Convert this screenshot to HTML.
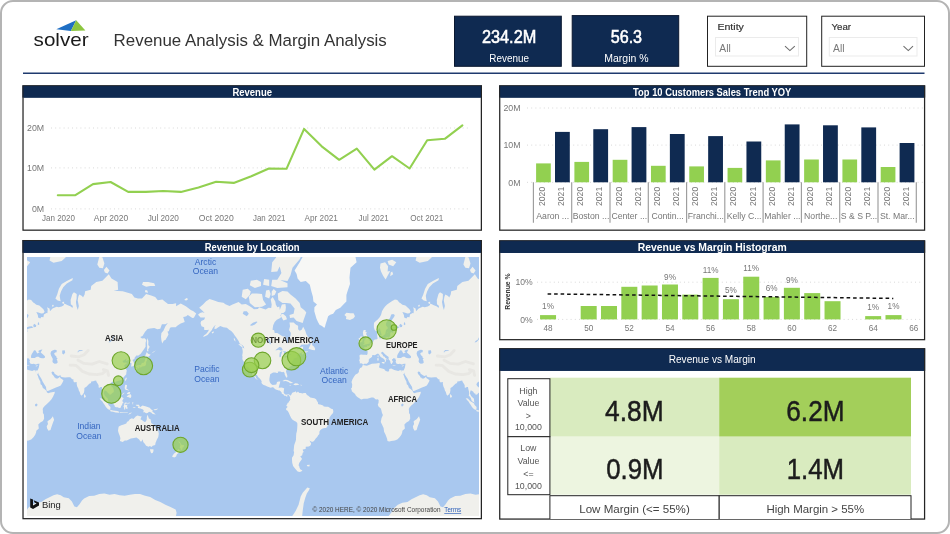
<!DOCTYPE html><html><head><meta charset="utf-8"><title>Revenue Analysis &amp; Margin Analysis</title><style>

html,body{margin:0;padding:0;background:#fff;}
body{width:950px;height:534px;position:relative;overflow:hidden;font-family:"Liberation Sans", sans-serif;}
.frame{position:absolute;left:0;top:0;width:950px;height:534px;box-sizing:border-box;border:2px solid #b4b4b4;border-radius:13px;background:#fff;}
.panel{position:absolute;box-sizing:border-box;border:1px solid #1d1d1d;background:#fff;}
.ptitle{background:#0f2a51;overflow:hidden;}
svg text{font-family:"Liberation Sans", sans-serif;}
svg{will-change:transform;}

</style></head><body>
<div class="frame"></div>
<svg class="" style="position:absolute;left:0px;top:0px" width="950" height="80" viewBox="0 0 950 80" font-family='"Liberation Sans", sans-serif'><polygon points="56.3,29.2 76.2,20.2 70.9,30.9" fill="#1f6fc4"/><polygon points="76.2,20.2 85.4,30.4 70.9,30.9" fill="#8cc63f"/><text x="33.6" y="45.9" font-size="18.4" fill="#1a1a1a" font-weight="normal" text-anchor="start" textLength="55" lengthAdjust="spacingAndGlyphs">solver</text><text x="113.6" y="45.8" font-size="17.4" fill="#333" font-weight="normal" text-anchor="start" textLength="273.2" lengthAdjust="spacingAndGlyphs">Revenue Analysis &amp; Margin Analysis</text><rect x="454.50" y="16.20" width="106.80" height="50.10" fill="#0f2a51" stroke="#0a1830" stroke-width="1"/><rect x="572.20" y="15.60" width="106.50" height="50.70" fill="#0f2a51" stroke="#0a1830" stroke-width="1"/><text x="509.1" y="42.7" font-size="17.6" fill="#fff" font-weight="normal" text-anchor="middle" textLength="54.4" lengthAdjust="spacingAndGlyphs" stroke="#fff" stroke-width="0.55">234.2M</text><text x="509.1" y="61.8" font-size="10.4" fill="#fff" font-weight="normal" text-anchor="middle" textLength="39.6" lengthAdjust="spacingAndGlyphs">Revenue</text><text x="626.4" y="42.7" font-size="17.6" fill="#fff" font-weight="normal" text-anchor="middle" textLength="31.4" lengthAdjust="spacingAndGlyphs" stroke="#fff" stroke-width="0.55">56.3</text><text x="626.4" y="61.8" font-size="10.4" fill="#fff" font-weight="normal" text-anchor="middle" textLength="44.3" lengthAdjust="spacingAndGlyphs">Margin %</text><rect x="707.50" y="16.20" width="99.20" height="50.10" fill="#fff" stroke="#222" stroke-width="1"/><rect x="821.70" y="16.20" width="102.80" height="50.10" fill="#fff" stroke="#222" stroke-width="1"/><text x="717.4" y="30.1" font-size="9.6" fill="#333" font-weight="normal" text-anchor="start" textLength="26.5" lengthAdjust="spacingAndGlyphs" stroke="#333" stroke-width="0.18">Entity</text><text x="831.5" y="30.1" font-size="9.6" fill="#333" font-weight="normal" text-anchor="start" textLength="19.5" lengthAdjust="spacingAndGlyphs" stroke="#333" stroke-width="0.18">Year</text><rect x="715.50" y="37.50" width="83.00" height="18.50" fill="#fff" stroke="#ebebeb" stroke-width="1"/><rect x="829.30" y="37.50" width="87.70" height="18.50" fill="#fff" stroke="#ebebeb" stroke-width="1"/><text x="719.3" y="51.6" font-size="10.3" fill="#787878" font-weight="normal" text-anchor="start">All</text><text x="833.1" y="51.6" font-size="10.3" fill="#787878" font-weight="normal" text-anchor="start">All</text><polyline points="785,46.2 789.9,50.6 794.8,46.2" fill="none" stroke="#6e6e6e" stroke-width="1.1"/><polyline points="903.5,46.2 908.3,50.6 913,46.2" fill="none" stroke="#6e6e6e" stroke-width="1.1"/><line x1="23" x2="924.5" y1="73.3" y2="73.3" stroke="#1f3a6e" stroke-width="1.4"/></svg>
<svg class="chrome" style="position:absolute;left:0px;top:80px" width="950" height="454" viewBox="0 80 950 454" font-family='"Liberation Sans", sans-serif'>
<g class="panel"><rect x="22.40" y="85.30" width="459.60" height="145.50" fill="#fff"/><rect x="22.40" y="85.30" width="459.60" height="12.30" fill="#0f2a51"/><rect x="23.02" y="85.92" width="458.35" height="144.25" fill="none" stroke="#242424" stroke-width="1.25"/><rect x="23.65" y="86.20" width="457.10" height="11.40" fill="#0f2a51"/><text x="252.2" y="95.5" font-size="10.6" fill="#fff" font-weight="bold" text-anchor="middle" textLength="39.6" lengthAdjust="spacingAndGlyphs">Revenue</text></g>
<g class="panel"><rect x="499.10" y="85.30" width="426.10" height="145.50" fill="#fff"/><rect x="499.10" y="85.30" width="426.10" height="12.30" fill="#0f2a51"/><rect x="499.73" y="85.92" width="424.85" height="144.25" fill="none" stroke="#242424" stroke-width="1.25"/><rect x="500.35" y="86.20" width="423.60" height="11.40" fill="#0f2a51"/><text x="712.2" y="95.5" font-size="10.6" fill="#fff" font-weight="bold" text-anchor="middle" textLength="158.2" lengthAdjust="spacingAndGlyphs">Top 10 Customers Sales Trend YOY</text></g>
<g class="panel"><rect x="22.40" y="240.00" width="459.60" height="279.30" fill="#fff"/><rect x="22.40" y="240.00" width="459.60" height="12.80" fill="#0f2a51"/><rect x="23.02" y="240.62" width="458.35" height="278.05" fill="none" stroke="#242424" stroke-width="1.25"/><rect x="23.65" y="240.90" width="457.10" height="11.90" fill="#0f2a51"/><text x="252.2" y="250.7" font-size="10.3" fill="#fff" font-weight="bold" text-anchor="middle" textLength="94.8" lengthAdjust="spacingAndGlyphs">Revenue by Location</text></g>
<g class="panel"><rect x="499.10" y="240.30" width="426.10" height="100.00" fill="#fff"/><rect x="499.10" y="240.30" width="426.10" height="12.60" fill="#0f2a51"/><rect x="499.73" y="240.93" width="424.85" height="98.75" fill="none" stroke="#242424" stroke-width="1.25"/><rect x="500.35" y="241.20" width="423.60" height="11.70" fill="#0f2a51"/><text x="712.2" y="251.2" font-size="10.7" fill="#fff" font-weight="bold" text-anchor="middle" textLength="149" lengthAdjust="spacingAndGlyphs">Revenue vs Margin Histogram</text></g>
<g class="panel"><rect x="499.10" y="348.20" width="426.10" height="171.50" fill="#fff"/><rect x="499.10" y="348.20" width="426.10" height="22.60" fill="#0f2a51"/><rect x="499.73" y="348.82" width="424.85" height="170.25" fill="none" stroke="#242424" stroke-width="1.25"/><rect x="500.35" y="349.10" width="423.60" height="21.70" fill="#0f2a51"/><text x="712.2" y="363.0" font-size="10.4" fill="#fff" font-weight="normal" text-anchor="middle" textLength="87" lengthAdjust="spacingAndGlyphs">Revenue vs Margin</text></g>
</svg>
<svg class="" style="position:absolute;left:24px;top:98px" width="457" height="131" viewBox="24 98 457 131" font-family='"Liberation Sans", sans-serif'><line x1="51" x2="470" y1="128.0" y2="128.0" stroke="#d9d9d9" stroke-width="1" stroke-dasharray="1 3.2"/><line x1="51" x2="470" y1="167.9" y2="167.9" stroke="#d9d9d9" stroke-width="1" stroke-dasharray="1 3.2"/><line x1="51" x2="470" y1="208.9" y2="208.9" stroke="#d9d9d9" stroke-width="1" stroke-dasharray="1 3.2"/><text x="44.2" y="131.2" font-size="8.8" fill="#777" font-weight="normal" text-anchor="end">20M</text><text x="44.2" y="171.1" font-size="8.8" fill="#777" font-weight="normal" text-anchor="end">10M</text><text x="44.2" y="212.1" font-size="8.8" fill="#777" font-weight="normal" text-anchor="end">0M</text><polyline points="57.8,195.2 75.4,195.2 93.0,184.1 110.6,182.0 128.2,191.9 145.8,191.9 163.3,191.0 180.9,191.9 198.5,187.4 216.1,181.7 233.7,182.9 251.3,176.3 268.9,168.5 286.5,168.8 304.1,128.9 321.7,146.3 339.2,159.8 356.8,148.7 374.4,169.7 392.0,156.2 409.6,168.5 427.2,140.3 444.8,138.8 462.4,125.3" fill="none" stroke="#92d050" stroke-width="2.1" stroke-linejoin="round" stroke-linecap="round"/><text x="58.5" y="221.2" font-size="8.8" fill="#777" font-weight="normal" text-anchor="middle" textLength="33" lengthAdjust="spacingAndGlyphs">Jan 2020</text><text x="111.0" y="221.2" font-size="8.8" fill="#777" font-weight="normal" text-anchor="middle" textLength="34.5" lengthAdjust="spacingAndGlyphs">Apr 2020</text><text x="163.3" y="221.2" font-size="8.8" fill="#777" font-weight="normal" text-anchor="middle" textLength="31.2" lengthAdjust="spacingAndGlyphs">Jul 2020</text><text x="216.2" y="221.2" font-size="8.8" fill="#777" font-weight="normal" text-anchor="middle" textLength="35" lengthAdjust="spacingAndGlyphs">Oct 2020</text><text x="269.2" y="221.2" font-size="8.8" fill="#777" font-weight="normal" text-anchor="middle" textLength="32.4" lengthAdjust="spacingAndGlyphs">Jan 2021</text><text x="321.2" y="221.2" font-size="8.8" fill="#777" font-weight="normal" text-anchor="middle" textLength="33.3" lengthAdjust="spacingAndGlyphs">Apr 2021</text><text x="373.6" y="221.2" font-size="8.8" fill="#777" font-weight="normal" text-anchor="middle" textLength="30.2" lengthAdjust="spacingAndGlyphs">Jul 2021</text><text x="426.8" y="221.2" font-size="8.8" fill="#777" font-weight="normal" text-anchor="middle" textLength="33" lengthAdjust="spacingAndGlyphs">Oct 2021</text></svg>
<svg class="" style="position:absolute;left:501px;top:98px" width="423" height="131" viewBox="501 98 423 131" font-family='"Liberation Sans", sans-serif'><line x1="527" x2="923" y1="108.0" y2="108.0" stroke="#d9d9d9" stroke-width="1" stroke-dasharray="1 3.2"/><line x1="527" x2="923" y1="145.1" y2="145.1" stroke="#d9d9d9" stroke-width="1" stroke-dasharray="1 3.2"/><line x1="527" x2="923" y1="182.3" y2="182.3" stroke="#d9d9d9" stroke-width="1" stroke-dasharray="1 3.2"/><text x="520.6" y="111.2" font-size="8.8" fill="#777" font-weight="normal" text-anchor="end">20M</text><text x="520.6" y="148.29999999999998" font-size="8.8" fill="#777" font-weight="normal" text-anchor="end">10M</text><text x="520.6" y="185.5" font-size="8.8" fill="#777" font-weight="normal" text-anchor="end">0M</text><rect x="536.10" y="163.40" width="14.70" height="18.90" fill="#92d050"/><rect x="555.00" y="131.90" width="14.80" height="50.40" fill="#0f2a51"/><text transform="translate(545.0 196.4) rotate(-90)" font-size="8.6" fill="#777" text-anchor="middle">2020</text><text transform="translate(564.1 196.4) rotate(-90)" font-size="8.6" fill="#777" text-anchor="middle">2021</text><text x="552.7" y="219.4" font-size="8.7" fill="#777" font-weight="normal" text-anchor="middle">Aaron ...</text><rect x="574.39" y="161.90" width="14.70" height="20.40" fill="#92d050"/><rect x="593.29" y="129.20" width="14.80" height="53.10" fill="#0f2a51"/><text transform="translate(583.3 196.4) rotate(-90)" font-size="8.6" fill="#777" text-anchor="middle">2020</text><text transform="translate(602.4 196.4) rotate(-90)" font-size="8.6" fill="#777" text-anchor="middle">2021</text><text x="591.0" y="219.4" font-size="8.7" fill="#777" font-weight="normal" text-anchor="middle">Boston ...</text><rect x="612.68" y="159.80" width="14.70" height="22.50" fill="#92d050"/><rect x="631.58" y="127.10" width="14.80" height="55.20" fill="#0f2a51"/><text transform="translate(621.6 196.4) rotate(-90)" font-size="8.6" fill="#777" text-anchor="middle">2020</text><text transform="translate(640.7 196.4) rotate(-90)" font-size="8.6" fill="#777" text-anchor="middle">2021</text><text x="629.3" y="219.4" font-size="8.7" fill="#777" font-weight="normal" text-anchor="middle">Center ...</text><rect x="650.97" y="165.80" width="14.70" height="16.50" fill="#92d050"/><rect x="669.87" y="134.00" width="14.80" height="48.30" fill="#0f2a51"/><text transform="translate(659.9 196.4) rotate(-90)" font-size="8.6" fill="#777" text-anchor="middle">2020</text><text transform="translate(679.0 196.4) rotate(-90)" font-size="8.6" fill="#777" text-anchor="middle">2021</text><text x="667.6" y="219.4" font-size="8.7" fill="#777" font-weight="normal" text-anchor="middle">Contin...</text><rect x="689.26" y="166.40" width="14.70" height="15.90" fill="#92d050"/><rect x="708.16" y="136.10" width="14.80" height="46.20" fill="#0f2a51"/><text transform="translate(698.2 196.4) rotate(-90)" font-size="8.6" fill="#777" text-anchor="middle">2020</text><text transform="translate(717.3 196.4) rotate(-90)" font-size="8.6" fill="#777" text-anchor="middle">2021</text><text x="705.9" y="219.4" font-size="8.7" fill="#777" font-weight="normal" text-anchor="middle">Franchi...</text><rect x="727.55" y="167.90" width="14.70" height="14.40" fill="#92d050"/><rect x="746.45" y="141.50" width="14.80" height="40.80" fill="#0f2a51"/><text transform="translate(736.4 196.4) rotate(-90)" font-size="8.6" fill="#777" text-anchor="middle">2020</text><text transform="translate(755.5 196.4) rotate(-90)" font-size="8.6" fill="#777" text-anchor="middle">2021</text><text x="744.1" y="219.4" font-size="8.7" fill="#777" font-weight="normal" text-anchor="middle">Kelly C...</text><rect x="765.84" y="160.40" width="14.70" height="21.90" fill="#92d050"/><rect x="784.74" y="124.40" width="14.80" height="57.90" fill="#0f2a51"/><text transform="translate(774.7 196.4) rotate(-90)" font-size="8.6" fill="#777" text-anchor="middle">2020</text><text transform="translate(793.8 196.4) rotate(-90)" font-size="8.6" fill="#777" text-anchor="middle">2021</text><text x="782.4" y="219.4" font-size="8.7" fill="#777" font-weight="normal" text-anchor="middle">Mahler ...</text><rect x="804.13" y="159.50" width="14.70" height="22.80" fill="#92d050"/><rect x="823.03" y="125.30" width="14.80" height="57.00" fill="#0f2a51"/><text transform="translate(813.0 196.4) rotate(-90)" font-size="8.6" fill="#777" text-anchor="middle">2020</text><text transform="translate(832.1 196.4) rotate(-90)" font-size="8.6" fill="#777" text-anchor="middle">2021</text><text x="820.7" y="219.4" font-size="8.7" fill="#777" font-weight="normal" text-anchor="middle">Northe...</text><rect x="842.42" y="159.50" width="14.70" height="22.80" fill="#92d050"/><rect x="861.32" y="127.40" width="14.80" height="54.90" fill="#0f2a51"/><text transform="translate(851.3 196.4) rotate(-90)" font-size="8.6" fill="#777" text-anchor="middle">2020</text><text transform="translate(870.4 196.4) rotate(-90)" font-size="8.6" fill="#777" text-anchor="middle">2021</text><text x="859.0" y="219.4" font-size="8.7" fill="#777" font-weight="normal" text-anchor="middle">S &amp; S P...</text><rect x="880.71" y="167.00" width="14.70" height="15.30" fill="#92d050"/><rect x="899.61" y="143.00" width="14.80" height="39.30" fill="#0f2a51"/><text transform="translate(889.6 196.4) rotate(-90)" font-size="8.6" fill="#777" text-anchor="middle">2020</text><text transform="translate(908.7 196.4) rotate(-90)" font-size="8.6" fill="#777" text-anchor="middle">2021</text><text x="897.3" y="219.4" font-size="8.7" fill="#777" font-weight="normal" text-anchor="middle">St. Mar...</text><line x1="533.4" x2="533.4" y1="182.3" y2="222.7" stroke="#9c9c9c" stroke-width="1.15"/><line x1="571.7" x2="571.7" y1="182.3" y2="222.7" stroke="#9c9c9c" stroke-width="1.15"/><line x1="610.0" x2="610.0" y1="182.3" y2="222.7" stroke="#9c9c9c" stroke-width="1.15"/><line x1="648.3" x2="648.3" y1="182.3" y2="222.7" stroke="#9c9c9c" stroke-width="1.15"/><line x1="686.6" x2="686.6" y1="182.3" y2="222.7" stroke="#9c9c9c" stroke-width="1.15"/><line x1="724.8" x2="724.8" y1="182.3" y2="222.7" stroke="#9c9c9c" stroke-width="1.15"/><line x1="763.1" x2="763.1" y1="182.3" y2="222.7" stroke="#9c9c9c" stroke-width="1.15"/><line x1="801.4" x2="801.4" y1="182.3" y2="222.7" stroke="#9c9c9c" stroke-width="1.15"/><line x1="839.7" x2="839.7" y1="182.3" y2="222.7" stroke="#9c9c9c" stroke-width="1.15"/><line x1="878.0" x2="878.0" y1="182.3" y2="222.7" stroke="#9c9c9c" stroke-width="1.15"/><line x1="916.3" x2="916.3" y1="182.3" y2="222.7" stroke="#9c9c9c" stroke-width="1.15"/></svg>
<svg class="map" style="position:absolute;left:27px;top:256.8px" width="452" height="259.2" viewBox="27 256.8 452 259.2" font-family='"Liberation Sans", sans-serif'><rect x="27.00" y="256.80" width="452.00" height="259.20" fill="#a9c8ef"/><g style="filter:blur(0.6px)"><path d="M-3.3 364.7L0.7 365.6L2.7 364.7L5.8 363.5L9.8 363.2L12.9 362.8L13.9 363.2L13.4 365.1L12.9 367.0L13.9 367.9L15.9 368.3L18.3 369.0L19.0 370.3L21.0 371.2L22.5 371.3L23.0 370.0L23.0 368.8L25.1 368.3L26.6 369.1L28.1 369.7L30.2 370.2L32.2 370.7L33.7 370.0L35.2 370.1L35.8 371.8L36.8 373.8L37.7 375.2L38.8 378.6L40.3 381.3L40.6 384.1L41.9 385.1L42.9 387.8L44.4 388.8L46.6 390.9L46.7 391.9L48.0 393.0L50.5 392.3L54.8 391.5L54.6 393.1L53.0 396.6L51.5 399.1L49.5 401.2L46.9 403.7L44.9 405.5L43.4 407.3L42.7 408.8L42.9 410.8L42.9 412.9L43.9 414.4L44.1 418.6L42.9 420.7L40.3 422.3L38.3 424.4L38.8 428.3L36.3 430.5L36.1 432.2L35.2 434.5L33.7 436.8L31.2 439.2L28.6 440.4L25.1 440.7L23.0 441.4L21.4 440.7L21.0 438.6L19.5 434.5L18.0 431.6L17.4 427.7L15.9 424.4L14.7 421.7L15.4 418.1L16.7 414.9L15.9 412.7L15.2 409.8L14.7 408.3L12.4 406.2L11.6 404.4L12.4 402.7L12.6 400.1L11.8 399.1L9.8 399.2L8.3 398.1L7.2 397.3L5.2 397.3L3.7 397.7L1.2 398.6L-0.4 398.5L-2.4 398.5L-4.9 399.2L-6.5 398.3L-8.8 396.8L-10.5 395.0L-11.0 393.7L-12.6 392.5L-14.3 391.0L-14.4 389.9L-15.1 388.6L-14.1 387.2L-13.9 384.1L-14.6 381.9L-13.6 379.1L-12.0 376.4L-10.5 374.3L-8.5 373.2L-7.3 371.8L-7.3 370.0L-5.9 367.8L-4.2 367.0ZM362.8 364.7L366.8 365.6L368.8 364.7L371.9 363.5L375.9 363.2L379.0 362.8L380.0 363.2L379.5 365.1L379.0 367.0L380.0 367.9L382.0 368.3L384.4 369.0L385.1 370.3L387.1 371.2L388.7 371.3L389.2 370.0L389.2 368.8L391.2 368.3L392.7 369.1L394.2 369.7L396.3 370.2L398.3 370.7L399.8 370.0L401.4 370.1L401.9 371.8L402.9 373.8L403.8 375.2L404.9 378.6L406.4 381.3L406.8 384.1L408.0 385.1L409.0 387.8L410.5 388.8L412.8 390.9L412.9 391.9L414.1 393.0L416.6 392.3L420.9 391.5L420.7 393.1L419.2 396.6L417.6 399.1L415.6 401.2L413.1 403.7L411.0 405.5L409.5 407.3L408.8 408.8L409.0 410.8L409.0 412.9L410.0 414.4L410.2 418.6L409.0 420.7L406.4 422.3L404.4 424.4L404.9 428.3L402.4 430.5L402.2 432.2L401.4 434.5L399.8 436.8L397.3 439.2L394.8 440.4L391.2 440.7L389.2 441.4L387.5 440.7L387.1 438.6L385.6 434.5L384.1 431.6L383.6 427.7L382.0 424.4L380.8 421.7L381.5 418.1L382.9 414.9L382.0 412.7L381.3 409.8L380.8 408.3L378.5 406.2L377.8 404.4L378.5 402.7L378.7 400.1L377.9 399.1L375.9 399.2L374.4 398.1L373.3 397.3L371.4 397.3L369.8 397.7L367.3 398.6L365.8 398.5L363.7 398.5L361.2 399.2L359.7 398.3L357.3 396.8L355.6 395.0L355.1 393.7L353.6 392.5L351.8 391.0L351.7 389.9L351.0 388.6L352.0 387.2L352.2 384.1L351.5 381.9L352.5 379.1L354.1 376.4L355.6 374.3L357.6 373.2L358.9 371.8L358.9 370.0L360.2 367.8L361.9 367.0ZM52.8 416.0L54.1 419.6L53.0 422.3L51.5 426.6L50.5 429.9L48.5 430.5L47.1 428.3L46.7 426.1L48.0 423.9L47.4 421.2L48.5 420.2L50.5 419.1L52.0 417.3ZM419.0 416.0L420.2 419.6L419.2 422.3L417.6 426.6L416.6 429.9L414.6 430.5L413.3 428.3L412.9 426.1L414.1 423.9L413.6 421.2L414.6 420.2L416.6 419.1L418.1 417.3ZM-3.0 364.5L-3.7 363.5L-4.8 363.0L-6.5 363.2L-6.2 361.3L-7.0 360.9L-6.4 358.0L-6.8 355.3L-5.4 354.3L-2.9 354.6L-0.9 354.6L0.9 354.7L1.5 353.2L1.5 351.0L0.5 349.5L-1.9 348.3L-2.2 347.4L-0.4 346.8L1.1 346.9L0.9 345.4L2.9 345.7L4.2 344.6L4.5 343.3L6.3 342.7L7.0 341.7L7.6 340.0L8.8 339.2L10.8 339.0L11.4 338.3L11.0 335.7L11.0 332.9L12.4 332.6L13.5 331.6L13.2 333.9L13.7 334.8L12.9 336.6L13.7 338.3L14.9 338.0L16.4 337.5L17.1 338.5L19.0 337.8L21.5 336.9L22.5 337.6L23.0 336.8L24.1 335.7L24.1 332.9L25.1 331.8L26.6 332.9L27.4 331.4L27.1 329.1L30.2 328.1L31.7 327.9L33.4 327.3L31.7 326.1L29.1 326.3L26.1 327.3L24.9 326.1L24.9 323.4L25.1 320.7L28.1 316.6L28.6 314.9L27.1 313.9L25.1 314.4L23.9 317.8L21.3 320.7L20.0 322.9L19.8 325.1L21.3 326.7L21.8 328.1L20.0 329.7L19.5 332.0L19.0 334.4L17.4 334.8L17.1 335.9L15.7 335.9L15.4 334.2L14.7 332.0L14.1 329.3L13.5 328.5L13.4 327.5L12.4 329.3L10.8 330.9L9.8 331.1L8.4 329.3L7.8 327.1L7.8 324.0L8.0 322.5L9.8 320.7L11.3 319.6L13.4 317.3L14.9 314.9L15.9 311.1L17.4 308.4L19.0 306.2L21.0 304.2L23.0 302.8L26.1 300.7L28.8 299.4L31.2 299.7L33.2 302.2L34.2 302.8L36.3 304.5L39.3 305.4L43.4 309.0L44.6 311.6L43.4 313.1L41.3 313.4L38.3 312.4L36.3 311.9L37.8 314.9L38.1 317.3L40.3 318.4L41.3 316.8L43.4 317.0L43.9 314.4L46.4 312.9L47.4 313.1L47.7 309.0L46.9 307.1L49.5 308.4L50.0 311.1L52.5 308.4L56.6 306.5L58.6 307.1L61.7 306.2L63.7 305.1L64.2 303.4L67.8 305.1L70.8 306.2L72.4 307.9L72.9 305.7L70.8 304.0L70.6 299.7L72.4 293.8L73.9 292.1L76.7 293.8L76.6 298.2L75.9 301.9L76.6 306.2L77.8 309.8L76.9 312.1L78.0 309.0L78.8 305.7L77.7 300.4L78.3 296.5L79.2 294.2L82.0 295.9L83.0 297.2L84.6 294.2L85.1 291.0L90.7 289.6L91.2 285.8L96.3 281.7L102.4 280.5L108.8 274.1L111.5 278.3L117.6 281.7L118.1 289.6L113.6 290.7L117.6 290.7L122.7 291.0L127.8 292.5L131.9 293.8L134.4 297.2L138.0 298.2L142.0 298.2L144.8 295.2L146.1 293.8L151.2 295.2L155.2 296.9L157.8 300.0L162.4 299.4L165.4 301.9L168.0 303.7L172.5 303.7L176.1 303.1L176.1 306.0L180.7 303.4L185.8 306.0L190.8 309.8L193.4 311.1L196.2 313.4L193.9 317.5L192.4 317.8L187.8 314.9L186.3 316.1L184.7 316.6L183.2 316.8L184.7 321.8L180.7 323.4L177.6 325.3L175.6 327.1L171.5 327.1L170.0 327.5L168.8 331.1L167.5 331.4L168.5 334.4L167.3 336.6L165.4 339.7L163.9 340.2L162.2 343.3L161.4 340.0L161.0 336.6L161.4 332.9L163.4 330.5L165.4 326.1L168.5 321.8L169.5 321.8L165.4 324.0L161.9 324.0L160.3 328.5L157.3 329.1L154.2 327.9L150.2 328.3L147.6 328.7L145.1 331.6L142.5 335.7L140.2 336.9L142.0 338.3L144.6 338.0L146.3 339.7L145.6 342.5L145.6 346.5L144.1 348.8L142.0 351.7L140.5 353.9L138.0 355.5L136.8 355.1L135.6 356.2L134.7 357.3L134.4 358.7L132.4 359.7L133.4 361.3L134.3 363.2L134.3 365.1L133.4 365.7L131.4 366.5L131.2 365.1L131.6 363.2L129.8 362.2L130.0 360.0L129.1 359.3L126.8 360.5L126.0 360.9L126.6 358.3L123.7 360.4L122.4 360.8L123.6 362.6L125.6 362.2L127.3 362.8L125.2 364.4L124.0 365.7L125.0 366.7L125.8 368.8L126.7 370.0L126.7 370.8L126.3 372.9L126.3 374.1L124.7 375.8L123.7 377.1L122.7 378.0L121.2 379.7L118.8 380.5L117.6 380.8L115.6 381.5L115.1 382.5L114.4 381.3L112.8 381.2L111.3 382.2L110.3 384.1L111.0 385.7L112.8 387.2L113.8 389.9L113.8 391.9L112.0 393.1L111.2 394.0L109.5 394.8L109.5 393.5L108.0 393.0L106.9 391.2L105.4 390.6L104.9 389.9L104.4 390.9L103.7 393.0L104.9 395.6L105.9 396.8L107.5 398.1L108.0 399.6L108.0 401.2L108.7 402.3L107.8 402.1L105.7 400.8L104.8 398.1L103.9 396.6L102.7 395.6L103.0 393.5L102.9 391.4L102.2 388.8L101.9 386.7L100.6 386.7L99.6 387.5L98.6 387.2L98.6 385.1L97.8 383.5L96.6 381.9L96.1 380.3L94.7 380.6L93.2 381.0L91.2 381.3L91.0 382.7L89.3 383.5L87.6 385.3L86.4 386.6L84.4 387.8L84.3 390.2L83.9 392.5L83.3 393.2L83.0 394.2L82.2 394.6L81.5 395.5L80.5 394.5L79.7 391.9L78.8 390.4L78.3 388.3L77.2 386.2L76.7 384.1L76.6 381.9L76.1 381.7L74.7 382.2L72.9 380.5L74.2 379.7L72.4 379.1L71.1 378.0L70.3 377.0L68.3 377.1L65.2 377.3L62.7 377.0L61.0 376.6L60.5 375.1L58.1 375.7L56.1 374.5L54.6 373.5L53.9 371.8L52.3 371.4L51.5 372.0L51.8 373.2L52.5 374.6L53.8 375.8L54.4 377.7L54.9 376.2L55.2 377.7L56.1 378.4L57.8 378.4L59.7 376.8L60.1 376.0L60.2 377.9L62.2 379.0L63.5 380.3L62.5 382.4L61.5 384.1L60.7 385.3L58.6 386.2L55.9 387.2L52.5 388.8L48.5 390.6L46.9 390.7L46.2 388.8L46.0 386.8L44.4 384.3L42.6 381.3L41.5 378.8L40.1 376.6L38.5 374.1L38.1 372.3L37.6 374.1L37.5 374.3L36.5 373.4L35.9 371.9L35.7 370.3L37.5 370.2L38.2 368.8L38.8 367.2L39.2 365.1L39.4 363.6L37.8 363.6L35.8 364.4L33.8 363.5L32.2 363.9L30.5 363.5L29.4 361.6L30.0 360.0L29.3 359.3L29.1 358.3L27.1 358.1L26.6 359.1L25.9 358.7L26.1 360.3L27.1 361.7L26.1 362.6L25.9 363.9L24.9 363.5L24.3 362.2L24.1 360.9L23.0 359.9L22.4 358.7L22.5 356.9L21.5 356.0L19.5 354.6L18.2 353.4L17.2 352.2L16.6 351.6L15.2 352.0L15.3 353.6L16.5 354.6L17.1 356.1L19.0 356.8L19.0 357.5L21.5 359.1L21.3 359.6L20.0 358.7L19.6 359.9L20.1 360.6L19.1 362.1L18.7 361.9L18.8 360.0L18.0 359.1L17.1 358.3L15.4 357.3L13.9 356.0L13.2 354.6L11.9 353.3L10.3 354.1L8.8 355.1L7.3 354.7L6.0 355.1L6.0 356.6L4.7 357.6L3.5 358.3L2.5 359.7L2.9 360.9L2.0 362.3L0.7 363.5L-1.9 363.6ZM363.1 364.5L362.4 363.5L361.3 363.0L359.7 363.2L359.9 361.3L359.2 360.9L359.8 358.0L359.4 355.3L360.7 354.3L363.2 354.6L365.3 354.6L367.0 354.7L367.6 353.2L367.6 351.0L366.6 349.5L364.2 348.3L363.9 347.4L365.8 346.8L367.2 346.9L367.0 345.4L369.0 345.7L370.3 344.6L370.7 343.3L372.4 342.7L373.1 341.7L373.7 340.0L374.9 339.2L377.0 339.0L377.6 338.3L377.2 335.7L377.2 332.9L378.5 332.6L379.6 331.6L379.3 333.9L379.8 334.8L379.0 336.6L379.8 338.3L381.0 338.0L382.5 337.5L383.3 338.5L385.1 337.8L387.6 336.9L388.7 337.6L389.2 336.8L390.2 335.7L390.2 332.9L391.2 331.8L392.7 332.9L393.5 331.4L393.2 329.1L396.3 328.1L397.8 327.9L399.5 327.3L397.8 326.1L395.3 326.3L392.2 327.3L391.0 326.1L391.0 323.4L391.2 320.7L394.2 316.6L394.8 314.9L393.2 313.9L391.2 314.4L390.0 317.8L387.4 320.7L386.1 322.9L385.9 325.1L387.4 326.7L387.9 328.1L386.1 329.7L385.6 332.0L385.1 334.4L383.6 334.8L383.3 335.9L381.8 335.9L381.5 334.2L380.8 332.0L380.2 329.3L379.6 328.5L379.5 327.5L378.5 329.3L377.0 330.9L375.9 331.1L374.5 329.3L373.9 327.1L373.9 324.0L374.1 322.5L375.9 320.7L377.5 319.6L379.5 317.3L381.0 314.9L382.0 311.1L383.6 308.4L385.1 306.2L387.1 304.2L389.2 302.8L392.2 300.7L395.0 299.4L397.3 299.7L399.3 302.2L400.3 302.8L402.4 304.5L405.4 305.4L409.5 309.0L410.7 311.6L409.5 313.1L407.5 313.4L404.4 312.4L402.4 311.9L403.9 314.9L404.2 317.3L406.4 318.4L407.5 316.8L409.5 317.0L410.0 314.4L412.6 312.9L413.6 313.1L413.8 309.0L413.1 307.1L415.6 308.4L416.1 311.1L418.7 308.4L422.7 306.5L424.8 307.1L427.8 306.2L429.8 305.1L430.3 303.4L433.9 305.1L437.0 306.2L438.5 307.9L439.0 305.7L437.0 304.0L436.8 299.7L438.5 293.8L440.0 292.1L442.9 293.8L442.8 298.2L442.0 301.9L442.8 306.2L443.9 309.8L443.1 312.1L444.1 309.0L444.9 305.7L443.8 300.4L444.4 296.5L445.3 294.2L448.1 295.9L449.2 297.2L450.7 294.2L451.2 291.0L456.8 289.6L457.3 285.8L462.4 281.7L468.5 280.5L474.9 274.1L477.6 278.3L483.7 281.7L484.2 289.6L479.7 290.7L483.7 290.7L488.8 291.0L493.9 292.5L498.0 293.8L500.5 297.2L504.1 298.2L508.1 298.2L510.9 295.2L512.2 293.8L517.3 295.2L521.4 296.9L523.9 300.0L528.5 299.4L531.5 301.9L534.1 303.7L538.7 303.7L542.2 303.1L542.2 306.0L546.8 303.4L551.9 306.0L557.0 309.8L559.5 311.1L562.4 313.4L560.0 317.5L558.5 317.8L553.9 314.9L552.4 316.1L550.9 316.6L549.3 316.8L550.9 321.8L546.8 323.4L543.7 325.3L541.7 327.1L537.6 327.1L536.1 327.5L534.9 331.1L533.6 331.4L534.6 334.4L533.4 336.6L531.5 339.7L530.0 340.2L528.3 343.3L527.5 340.0L527.2 336.6L527.5 332.9L529.5 330.5L531.5 326.1L534.6 321.8L535.6 321.8L531.5 324.0L528.0 324.0L526.5 328.5L523.4 329.1L520.4 327.9L516.3 328.3L513.7 328.7L511.2 331.6L508.7 335.7L506.3 336.9L508.1 338.3L510.7 338.0L512.4 339.7L511.7 342.5L511.7 346.5L510.2 348.8L508.1 351.7L506.6 353.9L504.1 355.5L503.0 355.1L501.7 356.2L500.8 357.3L500.5 358.7L498.5 359.7L499.5 361.3L500.4 363.2L500.4 365.1L499.5 365.7L497.5 366.5L497.4 365.1L497.7 363.2L495.9 362.2L496.1 360.0L495.2 359.3L492.9 360.5L492.1 360.9L492.7 358.3L489.8 360.4L488.5 360.8L489.7 362.6L491.7 362.2L493.4 362.8L491.4 364.4L490.1 365.7L491.2 366.7L491.9 368.8L492.8 370.0L492.8 370.8L492.4 372.9L492.4 374.1L490.9 375.8L489.8 377.1L488.8 378.0L487.3 379.7L485.0 380.5L483.7 380.8L481.7 381.5L481.2 382.5L480.5 381.3L479.0 381.2L477.4 382.2L476.4 384.1L477.1 385.7L479.0 387.2L479.9 389.9L479.9 391.9L478.1 393.1L477.3 394.0L475.6 394.8L475.6 393.5L474.1 393.0L473.1 391.2L471.5 390.6L471.0 389.9L470.5 390.9L469.8 393.0L471.0 395.6L472.0 396.8L473.6 398.1L474.1 399.6L474.1 401.2L474.8 402.3L473.9 402.1L471.8 400.8L470.9 398.1L470.0 396.6L468.8 395.6L469.1 393.5L469.0 391.4L468.3 388.8L468.0 386.7L466.8 386.7L465.7 387.5L464.7 387.2L464.7 385.1L463.9 383.5L462.7 381.9L462.2 380.3L460.9 380.6L459.3 381.0L457.3 381.3L457.1 382.7L455.5 383.5L453.7 385.3L452.5 386.6L450.5 387.8L450.4 390.2L450.0 392.5L449.5 393.2L449.2 394.2L448.3 394.6L447.6 395.5L446.6 394.5L445.8 391.9L444.9 390.4L444.4 388.3L443.4 386.2L442.9 384.1L442.8 381.9L442.2 381.7L440.8 382.2L439.0 380.5L440.3 379.7L438.5 379.1L437.3 378.0L436.5 377.0L434.4 377.1L431.4 377.3L428.8 377.0L427.1 376.6L426.6 375.1L424.2 375.7L422.2 374.5L420.7 373.5L420.0 371.8L418.4 371.4L417.6 372.0L417.9 373.2L418.7 374.6L419.9 375.8L420.5 377.7L421.0 376.2L421.3 377.7L422.2 378.4L423.9 378.4L425.8 376.8L426.2 376.0L426.3 377.9L428.3 379.0L429.6 380.3L428.6 382.4L427.6 384.1L426.8 385.3L424.8 386.2L422.0 387.2L418.7 388.8L414.6 390.6L413.1 390.7L412.3 388.8L412.1 386.8L410.5 384.3L408.7 381.3L407.7 378.8L406.2 376.6L404.6 374.1L404.2 372.3L403.7 374.1L403.6 374.3L402.6 373.4L402.0 371.9L401.8 370.3L403.6 370.2L404.3 368.8L404.9 367.2L405.3 365.1L405.5 363.6L403.9 363.6L401.9 364.4L399.9 363.5L398.3 363.9L396.6 363.5L395.6 361.6L396.1 360.0L395.5 359.3L395.3 358.3L393.2 358.1L392.7 359.1L392.0 358.7L392.2 360.3L393.2 361.7L392.2 362.6L392.0 363.9L391.0 363.5L390.4 362.2L390.2 360.9L389.2 359.9L388.5 358.7L388.7 356.9L387.6 356.0L385.6 354.6L384.3 353.4L383.4 352.2L382.8 351.6L381.3 352.0L381.4 353.6L382.7 354.6L383.3 356.1L385.1 356.8L385.1 357.5L387.6 359.1L387.4 359.6L386.1 358.7L385.7 359.9L386.2 360.6L385.2 362.1L384.8 361.9L384.9 360.0L384.1 359.1L383.3 358.3L381.5 357.3L380.0 356.0L379.3 354.6L378.0 353.3L376.4 354.1L374.9 355.1L373.4 354.7L372.1 355.1L372.1 356.6L370.9 357.6L369.6 358.3L368.6 359.7L369.0 360.9L368.1 362.3L366.8 363.5L364.2 363.6ZM198.0 314.6L200.0 312.9L202.5 312.1L204.6 312.9L202.5 310.6L199.2 307.6L203.0 304.2L206.1 301.0L209.6 298.8L214.2 300.4L218.3 301.9L223.4 302.5L225.4 304.0L229.5 305.7L232.5 304.2L235.6 303.1L238.6 301.9L241.7 304.2L245.8 303.7L249.8 306.0L252.4 307.9L253.9 309.0L258.0 308.7L259.0 307.1L262.5 308.4L265.6 309.3L268.6 307.6L271.2 307.9L271.7 304.2L270.7 299.1L272.7 296.9L275.3 301.3L275.8 304.2L277.3 307.1L279.3 306.2L279.8 309.8L281.9 304.2L285.4 303.7L285.9 307.1L285.4 311.1L283.4 312.9L281.4 312.9L280.8 317.3L279.3 318.4L276.8 319.6L274.7 321.8L273.2 325.1L272.5 329.5L274.2 330.1L274.7 332.9L277.3 332.9L279.3 334.1L282.4 336.0L285.1 336.4L285.4 340.0L286.4 341.7L287.7 343.0L288.7 340.9L288.9 337.5L290.5 335.7L290.9 332.9L289.0 329.7L290.0 326.1L289.5 322.3L293.6 322.3L296.1 324.6L298.1 325.5L298.1 329.1L299.7 330.5L301.7 329.5L303.2 326.5L305.3 330.5L306.3 333.9L307.8 336.6L310.3 338.3L311.9 340.9L311.9 342.5L309.3 343.0L307.8 344.4L303.7 344.4L301.2 344.6L300.2 346.0L298.1 348.0L296.6 349.7L298.1 349.1L300.7 346.8L303.2 346.3L302.9 348.8L303.4 350.7L304.7 351.0L306.3 351.4L307.8 350.7L308.0 351.0L306.8 352.0L304.2 353.0L302.2 354.6L301.5 353.2L303.2 351.7L301.7 352.2L300.7 352.7L298.6 353.9L297.3 354.6L296.8 355.7L297.6 356.6L297.6 357.1L296.1 357.5L293.8 358.3L293.6 359.3L293.1 360.3L292.3 361.0L291.9 362.2L291.5 363.2L291.7 364.5L292.0 365.4L290.7 366.1L289.5 367.1L288.3 367.9L286.6 369.4L286.0 371.2L286.7 373.5L287.4 375.8L287.1 377.3L286.2 377.3L285.6 376.0L284.7 374.3L284.6 372.8L283.4 371.6L282.1 372.1L280.3 371.3L278.8 371.4L277.8 371.6L278.0 372.8L276.8 372.7L275.3 372.2L273.2 372.2L272.2 372.8L270.2 374.1L269.8 376.4L269.4 378.6L269.4 380.5L270.0 382.4L271.1 383.8L272.6 384.9L274.7 384.5L276.3 384.3L276.7 383.0L277.0 381.9L278.8 381.3L280.3 381.3L279.8 383.5L279.3 384.8L279.0 386.2L278.5 387.4L279.8 387.5L281.4 387.4L283.4 387.7L284.2 388.3L283.8 390.4L283.7 392.5L284.6 393.9L285.9 394.5L287.5 394.2L288.5 394.0L290.0 394.8L290.7 395.6L292.0 393.1L292.7 392.4L294.6 391.9L295.9 391.0L296.3 392.5L297.6 391.9L297.9 391.3L299.4 392.7L300.7 392.9L302.7 393.4L303.7 392.9L305.8 392.8L306.3 393.7L307.0 394.7L308.3 395.6L310.3 397.3L312.9 397.7L314.4 398.0L316.1 399.1L317.0 400.7L318.0 402.2L318.0 403.7L319.5 404.2L320.2 404.4L323.1 405.2L323.8 406.3L326.1 406.5L328.1 406.6L329.7 407.5L331.2 408.6L332.9 409.0L333.3 410.8L333.3 411.9L332.5 413.6L331.2 414.9L329.7 417.0L329.2 419.1L329.0 421.7L328.3 423.9L327.6 425.5L327.1 426.6L326.1 427.7L324.9 427.7L323.3 428.1L321.7 428.8L320.0 430.3L319.4 431.6L319.4 433.7L318.2 435.1L317.2 436.8L315.7 438.3L314.4 440.2L313.0 441.5L311.7 441.5L309.5 440.4L310.6 442.3L311.2 443.5L310.2 445.5L308.8 446.4L305.8 446.6L305.6 448.7L302.7 449.4L303.2 451.4L304.1 451.6L302.7 452.6L302.2 455.0L300.2 456.4L301.9 458.2L301.7 459.4L300.2 461.4L299.2 462.8L298.6 465.0L299.3 466.4L299.5 467.4L300.2 469.1L302.5 470.3L301.2 471.2L299.7 471.9L297.6 471.4L296.1 469.6L294.6 467.9L293.1 465.7L292.2 462.5L292.0 459.4L292.0 457.6L293.6 455.0L294.1 452.1L293.6 450.5L293.9 448.1L294.1 445.5L294.4 444.2L295.6 441.0L296.0 439.2L296.1 435.6L296.3 433.3L297.0 430.5L297.2 428.3L297.4 425.0L297.3 422.7L296.1 421.5L294.1 420.5L292.3 419.4L291.2 417.9L290.3 416.0L289.3 413.9L288.5 412.1L287.6 410.6L286.2 409.8L286.1 408.3L287.2 407.2L287.5 406.2L286.4 405.9L286.5 404.7L287.4 403.7L287.5 402.9L288.6 402.2L289.0 401.2L290.0 400.1L290.3 399.6L290.0 398.1L290.1 396.8L289.6 396.4L289.1 395.6L289.3 395.2L288.0 394.6L287.2 395.3L287.5 396.2L286.4 396.3L285.7 395.6L284.5 395.5L283.8 395.0L283.7 394.3L282.4 393.7L281.6 393.0L281.7 392.4L280.3 390.9L279.7 390.4L278.8 390.2L277.3 389.7L275.8 389.3L275.0 388.7L273.2 387.1L272.2 387.1L270.7 387.6L268.6 386.9L267.2 386.4L265.3 385.3L263.6 384.8L262.0 383.5L261.4 382.4L261.7 381.3L261.0 379.7L259.5 378.0L258.0 376.8L257.5 375.6L256.4 374.6L255.4 373.5L254.4 372.3L253.9 370.6L252.2 369.7L252.1 371.2L253.4 372.9L254.4 374.6L255.4 376.0L256.2 377.7L257.5 379.5L257.1 379.8L256.6 379.1L254.9 377.8L254.6 376.4L252.9 375.3L251.9 374.3L252.7 373.5L251.1 371.8L250.1 370.0L249.7 368.8L248.4 367.2L246.3 366.4L244.8 363.7L244.2 362.2L242.9 360.0L242.3 358.8L242.5 356.6L242.2 355.3L242.7 352.4L242.7 350.6L242.0 347.4L243.7 347.7L244.2 348.8L243.9 346.5L242.2 344.9L239.7 343.3L238.6 340.9L236.6 337.8L235.1 335.7L233.1 332.9L231.0 330.5L229.5 329.7L226.9 327.5L223.4 327.1L220.3 325.7L218.3 327.1L216.3 328.5L214.4 328.7L214.7 326.1L216.3 324.6L214.2 325.7L212.7 328.1L211.7 330.1L209.7 332.4L207.6 334.8L205.1 336.0L203.0 336.9L204.1 335.1L206.1 333.9L208.1 331.4L208.9 329.5L207.1 329.9L204.3 329.7L204.1 327.1L201.5 326.1L200.5 322.9L201.2 320.7L204.1 319.6L205.1 317.3L203.0 317.3L200.5 317.3L199.5 316.1ZM306.3 312.4L303.7 319.6L302.7 322.9L299.7 321.8L296.6 320.7L293.6 317.3L290.0 317.8L289.5 314.9L293.6 313.6L294.6 308.4L290.5 303.4L286.4 302.8L282.4 302.8L278.3 299.7L277.8 293.2L282.4 290.7L287.5 291.4L290.5 294.2L295.6 298.2L299.7 302.8L300.7 307.1L304.7 310.3ZM249.8 302.8L254.9 307.1L262.0 306.5L266.1 304.2L263.1 299.7L262.0 293.8L256.9 293.2L251.9 293.2L248.8 296.5ZM241.7 296.5L245.8 299.1L249.8 294.9L250.8 291.4L247.8 288.5L242.7 289.6ZM277.3 279.6L287.5 280.9L290.5 275.1L292.5 267.6L299.7 259.0L305.8 246.8L297.6 241.2L282.4 245.2L275.3 255.9L279.3 264.9L281.4 272.7ZM271.2 285.8L277.3 287.7L287.5 287.0L287.5 283.0L279.3 279.6L272.2 279.6ZM249.8 285.0L254.9 287.7L261.0 285.8L261.0 281.7L256.9 279.6L250.8 280.5ZM265.1 296.5L269.2 298.2L270.7 293.8L269.2 289.6L266.1 290.3ZM271.7 295.9L274.7 294.9L276.3 291.4L273.7 288.8L271.7 291.4ZM271.2 271.7L277.3 271.2L280.3 264.9L276.3 257.1L272.2 262.0ZM263.1 284.6L269.2 285.8L269.2 279.6L264.1 278.7ZM280.3 314.9L283.4 320.3L287.0 319.1L285.9 316.1L282.9 313.6ZM308.5 348.6L312.4 349.8L314.9 350.0L315.2 348.5L314.1 346.5L312.1 344.9L312.4 342.4L310.9 343.3L309.8 345.7ZM282.4 380.9L284.9 379.6L287.5 379.7L290.0 381.0L293.4 382.8L290.0 383.1L289.0 382.1L285.9 380.8L283.4 381.0ZM293.2 384.5L295.1 383.1L297.6 383.2L299.3 384.5L297.1 384.9L295.6 385.0ZM289.2 384.7L291.2 384.9L291.0 385.3L289.2 385.1ZM300.5 384.6L302.0 384.7L301.8 385.2L300.5 385.1ZM344.4 314.9L346.4 312.6L350.5 313.1L353.6 313.1L355.0 316.1L353.6 318.0L350.0 319.8L345.9 318.7L346.4 316.6ZM363.0 344.9L365.3 344.4L367.8 343.8L370.2 343.0L369.6 342.4L370.5 340.7L369.1 340.0L368.6 338.3L367.3 336.6L366.8 334.8L366.0 334.1L366.8 332.0L365.3 331.6L365.8 329.9L363.7 329.9L362.9 332.0L363.2 334.8L363.9 336.6L365.6 336.9L365.8 338.7L364.2 339.5L364.5 340.9L363.5 342.0L365.3 342.7L364.2 343.3ZM358.6 342.4L360.7 342.2L362.4 341.4L362.7 339.2L363.1 337.5L362.2 336.2L360.5 336.2L360.2 337.6L358.6 338.0L359.2 339.7L358.3 341.4ZM380.0 267.6L380.5 263.2L385.1 262.0L388.1 266.0L387.6 271.2L390.2 270.7L387.1 276.5L385.6 279.2L383.1 275.5L381.0 271.2ZM21.5 260.8L26.1 259.6L30.2 262.0L27.1 266.0L22.5 264.3ZM387.6 260.8L392.2 259.6L396.3 262.0L393.2 266.0L388.7 264.3ZM24.1 276.0L27.1 274.1L26.1 271.2L24.6 272.2ZM390.2 276.0L393.2 274.1L392.2 271.2L390.7 272.2ZM49.5 260.2L53.5 262.6L61.7 260.8L65.8 257.1L58.6 252.5L50.5 255.9ZM415.6 260.2L419.7 262.6L427.8 260.8L431.9 257.1L424.8 252.5L416.6 255.9ZM55.4 298.2L57.1 294.5L58.9 288.5L61.7 283.8L66.8 280.9L72.8 277.8L72.4 280.0L66.8 283.4L63.2 287.0L61.0 291.4L59.7 295.5L60.2 299.1L60.7 301.0L57.6 300.4ZM421.5 298.2L423.2 294.5L425.1 288.5L427.8 283.8L432.9 280.9L438.9 277.8L438.5 280.0L432.9 283.4L429.3 287.0L427.1 291.4L425.8 295.5L426.3 299.1L426.8 301.0L423.7 300.4ZM97.3 264.3L99.3 256.5L102.4 257.1L104.4 263.2L102.9 268.1L99.3 267.6ZM463.4 264.3L465.4 256.5L468.5 257.1L470.5 263.2L469.0 268.1L465.4 267.6ZM103.9 269.7L106.4 266.5L109.5 270.2L107.5 273.2L104.9 272.2ZM470.0 269.7L472.6 266.5L475.6 270.2L473.6 273.2L471.0 272.2ZM142.0 284.6L146.1 286.6L150.2 285.8L155.2 285.8L154.2 283.0L148.1 281.7L143.0 281.7ZM145.1 292.1L148.1 292.5L147.1 290.0L145.1 290.0ZM184.2 299.7L186.3 300.4L188.3 298.8L186.3 297.8ZM147.1 337.8L148.4 340.9L148.3 344.9L149.7 346.5L148.1 349.5L148.6 351.0L147.1 351.0L147.1 348.0L147.1 344.9L146.8 341.7ZM145.1 357.3L145.4 355.0L146.8 351.9L148.1 353.6L150.7 354.6L148.4 356.6L146.1 356.0ZM146.6 357.6L147.1 360.0L146.1 361.9L146.1 363.5L145.9 364.9L144.9 365.7L143.8 366.1L142.0 366.2L140.7 367.6L140.0 366.2L138.0 366.6L135.9 367.0L135.9 366.2L137.5 365.1L139.0 365.0L141.0 364.9L141.8 362.8L143.6 362.6L144.6 361.3L145.1 359.6L145.1 358.5ZM134.9 367.6L136.4 367.6L136.9 368.4L136.2 370.1L135.5 370.5L135.1 369.0L134.6 367.9ZM137.5 367.0L139.5 366.7L139.3 367.6L138.0 368.4L137.2 367.8ZM126.3 377.3L126.8 378.0L125.7 380.8L124.8 379.7L125.8 377.5ZM113.2 383.7L115.1 382.9L115.6 383.4L114.6 384.7L113.2 384.5ZM479.4 383.7L481.2 382.9L481.7 383.4L480.7 384.7L479.4 384.5ZM125.2 384.6L127.0 384.7L126.8 386.7L126.3 388.3L128.3 389.6L128.8 390.8L127.3 389.7L125.8 389.7L124.9 388.5L124.7 387.0ZM126.8 396.1L128.3 395.0L130.3 393.8L131.4 395.6L131.0 397.3L130.1 397.8L128.8 397.1L126.8 396.6ZM126.8 393.0L128.8 391.9L130.3 391.9L129.8 393.5L128.3 394.0L127.3 393.8ZM121.9 395.0L124.2 393.0L124.4 392.2L123.5 392.9L121.7 394.6ZM113.6 402.2L114.9 402.0L116.1 401.0L117.6 400.3L119.1 398.9L120.7 397.4L121.7 396.6L123.7 398.4L122.4 400.1L122.7 401.7L123.7 402.7L122.2 403.2L122.2 404.5L121.2 405.7L120.7 407.5L119.1 407.8L117.6 407.1L116.1 407.1L114.8 406.5L114.6 405.2L113.6 404.2ZM479.7 402.2L481.0 402.0L482.2 401.0L483.7 400.3L485.3 398.9L486.8 397.4L487.8 396.6L489.8 398.4L488.5 400.1L488.8 401.7L489.8 402.7L488.3 403.2L488.3 404.5L487.3 405.7L486.8 407.5L485.3 407.8L483.7 407.1L482.2 407.1L480.9 406.5L480.7 405.2L479.7 404.2ZM99.6 398.0L101.9 398.4L103.1 399.9L104.7 401.2L106.1 402.0L108.0 403.4L108.5 404.7L110.5 406.7L110.3 409.6L109.0 409.6L107.5 408.6L105.9 406.7L104.7 404.7L103.4 403.0L102.4 401.4L100.8 399.9ZM465.7 398.0L468.0 398.4L469.2 399.9L470.8 401.2L472.2 402.0L474.1 403.4L474.6 404.7L476.6 406.7L476.4 409.6L475.1 409.6L473.6 408.6L472.0 406.7L470.8 404.7L469.5 403.0L468.5 401.4L467.0 399.9ZM109.7 410.6L111.0 409.8L113.0 410.3L115.1 410.5L117.3 410.8L119.1 411.6L118.9 412.6L115.6 412.2L113.0 411.6L111.0 411.2ZM475.8 410.6L477.1 409.8L479.2 410.3L481.2 410.5L483.4 410.8L485.3 411.6L485.1 412.6L481.7 412.2L479.2 411.6L477.1 411.2ZM119.7 412.1L123.7 412.2L127.8 412.2L127.8 412.8L123.7 412.8L119.7 412.7ZM128.3 414.2L129.8 412.9L132.1 412.3L130.8 413.2L128.8 414.2ZM124.5 402.9L125.6 402.4L127.8 402.8L130.0 402.2L129.3 403.3L125.8 403.3L125.0 404.6L126.3 404.7L128.1 404.5L126.8 405.5L127.6 407.8L127.1 409.1L126.3 408.5L125.6 406.5L125.1 409.3L124.2 409.3L124.0 407.3L123.5 406.4L124.5 403.9ZM132.4 401.7L133.4 402.2L132.9 403.7L133.4 404.5L132.6 404.0L132.4 402.7ZM132.9 406.7L135.7 406.9L134.9 407.5L132.9 407.3ZM135.9 404.5L139.0 404.5L140.0 407.1L142.5 405.3L146.1 406.3L149.7 407.6L151.2 409.3L153.0 410.1L152.0 410.8L153.2 412.1L155.8 414.2L152.7 413.9L151.2 412.4L149.1 411.5L147.6 412.9L146.1 413.0L144.1 411.8L143.0 412.2L143.8 410.6L143.0 409.3L140.5 408.2L138.0 407.8L137.8 406.5L139.0 406.0L136.9 405.9L135.8 405.1ZM153.7 409.3L156.3 408.8L157.6 408.0L157.3 409.3L155.2 410.0L153.7 409.8ZM147.6 414.6L148.9 418.4L150.6 419.1L151.2 422.8L153.7 424.6L154.7 426.9L156.3 428.6L158.3 430.5L158.8 433.6L158.3 436.8L156.8 439.6L155.5 442.9L155.2 444.8L152.7 445.5L151.5 446.9L149.9 445.7L148.6 446.5L146.1 445.6L144.8 443.5L143.6 442.4L143.0 441.0L142.7 439.0L141.5 441.3L140.5 441.4L139.0 439.0L136.4 437.4L133.9 437.7L130.8 438.4L128.8 439.2L126.8 440.3L124.7 440.3L122.7 441.7L119.9 440.8L120.4 438.0L119.7 435.6L118.6 432.8L118.0 430.5L118.4 427.5L118.8 426.4L121.2 425.1L123.7 424.4L126.3 423.3L127.1 421.5L128.4 421.0L129.8 419.1L131.9 418.1L133.4 418.9L134.6 417.5L135.7 416.4L137.5 415.2L140.0 416.0L141.8 416.2L141.0 417.5L140.5 419.1L142.5 420.2L144.6 421.7L145.9 421.4L146.8 419.1L146.8 416.8ZM149.9 449.0L153.4 449.1L153.5 450.8L152.7 452.8L151.2 453.0L150.4 451.2ZM178.3 440.9L180.0 442.0L180.7 443.3L181.7 444.9L184.2 445.1L183.6 447.0L182.7 447.4L182.2 449.4L180.7 450.2L180.7 448.3L179.5 447.3L180.4 445.5L180.2 443.5L178.6 441.7ZM178.3 448.7L180.0 450.3L178.6 452.8L176.9 454.0L176.1 456.4L174.1 457.3L172.0 456.3L173.9 453.5L176.1 451.9L177.3 450.3ZM84.1 393.7L85.4 395.0L85.9 396.6L85.1 397.4L84.3 397.6L83.9 396.1ZM450.2 393.7L451.5 395.0L452.0 396.6L451.2 397.4L450.4 397.6L450.0 396.1ZM169.5 424.5L172.0 426.4L172.5 427.0L171.0 426.4L169.5 425.1ZM381.5 361.9L384.6 361.7L384.3 363.6L382.5 363.0ZM377.2 358.0L378.7 358.0L378.6 360.4L377.5 360.6ZM377.6 355.4L378.5 355.4L378.4 357.3L377.7 356.9ZM26.6 365.0L29.4 365.4L29.1 365.7L26.7 365.5ZM392.7 365.0L395.6 365.4L395.3 365.7L392.8 365.5ZM35.5 365.7L37.8 364.9L37.3 365.9L36.1 366.2ZM401.7 365.7L403.9 364.9L403.4 365.9L402.2 366.2ZM151.2 353.2L153.7 351.3L155.8 350.3L155.2 350.7L153.2 352.2ZM306.8 464.9L309.8 464.6L309.3 466.2L307.3 466.0ZM210.2 382.8L211.2 383.2L210.6 384.1L210.2 383.5ZM211.7 332.0L213.7 331.1L213.7 332.6L212.2 333.3ZM238.3 343.8L241.2 344.4L243.2 347.3L241.7 346.9L239.2 344.9ZM233.6 338.3L234.8 338.3L235.6 341.4L234.4 340.4ZM380.0 335.3L381.5 334.8L381.5 336.6L380.2 336.6ZM387.3 332.4L388.3 331.2L387.9 332.6ZM51.8 305.7L53.0 304.2L53.9 305.7L52.7 306.5ZM417.9 305.7L419.2 304.2L420.0 305.7L418.9 306.5ZM62.2 301.9L64.2 301.6L63.7 303.7L62.5 303.4ZM428.3 301.9L430.3 301.6L429.8 303.7L428.6 303.4Z" fill="#f0f0ec"/><path d="M-180.4 639.1L-180.4 536.2L-170.2 537.2L-160.0 534.7L-154.9 532.3L-149.8 527.8L-139.7 522.8L-129.5 520.8L-119.3 519.7L-109.2 520.8L-99.0 517.8L-88.8 517.8L-78.7 518.6L-74.6 517.1L-70.5 510.9L-67.5 504.6L-65.4 496.3L-63.4 492.5L-60.4 489.0L-58.8 487.3L-56.3 488.0L-57.3 490.4L-59.3 493.3L-60.9 497.6L-62.4 503.2L-63.4 510.9L-64.4 519.7L-58.3 525.7L-38.0 534.7L-27.8 530.0L-17.6 525.7L-7.5 523.6L2.7 522.4L12.9 520.8L21.0 517.8L25.1 512.5L28.1 507.7L31.8 504.6L36.3 502.6L41.3 501.7L45.4 499.0L49.5 497.1L53.5 495.0L57.1 494.0L60.7 495.0L63.7 497.1L68.8 498.1L71.9 501.2L74.4 506.4L76.9 507.0L79.5 504.0L82.0 500.3L84.1 498.4L89.1 495.8L94.2 495.5L99.3 493.8L104.4 493.3L109.5 494.5L114.6 493.8L119.7 495.0L124.7 495.5L129.8 494.5L134.9 493.8L140.0 493.8L145.1 495.5L150.2 496.8L155.2 499.8L160.3 501.7L165.4 504.6L170.5 506.7L175.6 509.2L176.6 512.5L175.6 517.8L172.5 530.0L170.5 534.7L185.8 536.2L185.8 639.1ZM185.8 639.1L185.8 536.2L195.9 537.2L206.1 534.7L211.2 532.3L216.3 527.8L226.4 522.8L236.6 520.8L246.8 519.7L256.9 520.8L267.1 517.8L277.3 517.8L287.5 518.6L291.5 517.1L295.6 510.9L298.6 504.6L300.7 496.3L302.7 492.5L305.8 489.0L307.3 487.3L309.8 488.0L308.8 490.4L306.8 493.3L305.3 497.6L303.7 503.2L302.7 510.9L301.7 519.7L307.8 525.7L328.1 534.7L338.3 530.0L348.5 525.7L358.6 523.6L368.8 522.4L379.0 520.8L387.1 517.8L391.2 512.5L394.2 507.7L397.9 504.6L402.4 502.6L407.5 501.7L411.5 499.0L415.6 497.1L419.7 495.0L423.2 494.0L426.8 495.0L429.8 497.1L434.9 498.1L438.0 501.2L440.5 506.4L443.1 507.0L445.6 504.0L448.1 500.3L450.2 498.4L455.3 495.8L460.3 495.5L465.4 493.8L470.5 493.3L475.6 494.5L480.7 493.8L485.8 495.0L490.9 495.5L495.9 494.5L501.0 493.8L506.1 493.8L511.2 495.5L516.3 496.8L521.4 499.8L526.5 501.7L531.5 504.6L536.6 506.7L541.7 509.2L542.7 512.5L541.7 517.8L538.7 530.0L536.6 534.7L551.9 536.2L551.9 639.1Z" fill="#f0f0ec"/><path d="M294.6 270.2L299.7 262.0L305.8 251.1L318.0 246.0L328.1 238.6L338.3 236.9L346.4 245.2L354.6 252.5L356.6 262.0L350.5 267.6L349.5 277.4L350.0 283.8L348.0 289.6L346.4 294.9L346.4 301.3L343.4 304.2L340.3 307.6L335.8 309.8L333.2 313.6L330.2 314.6L328.1 316.1L327.1 319.6L325.6 324.0L324.9 327.1L324.1 327.5L322.0 325.7L319.5 324.6L318.0 321.8L316.4 318.4L315.4 314.9L314.3 311.1L314.4 307.1L317.0 304.2L313.4 301.3L312.9 296.5L311.4 291.4L309.8 284.6L305.8 280.9L300.7 281.7L297.6 278.3L296.6 273.7Z" fill="#f7f7f5"/><path d="M31.2 357.7L31.0 356.2L31.2 355.0L31.9 353.6L32.9 352.0L33.9 350.4L34.7 350.1L36.3 350.7L36.0 351.3L36.7 352.2L37.3 353.3L38.6 352.6L39.8 352.0L38.3 351.6L38.8 350.3L40.8 349.5L42.4 349.2L41.3 351.0L40.7 352.4L41.9 353.3L43.4 354.6L44.9 356.0L45.0 357.2L43.9 358.0L41.9 358.0L39.8 357.6L38.5 356.6L36.8 356.6L34.7 357.7L32.4 357.7ZM397.3 357.7L397.1 356.2L397.3 355.0L398.0 353.6L399.0 352.0L400.0 350.4L400.9 350.1L402.4 350.7L402.1 351.3L402.8 352.2L403.4 353.3L404.7 352.6L405.9 352.0L404.4 351.6L404.9 350.3L407.0 349.5L408.5 349.2L407.5 351.0L406.9 352.4L408.0 353.3L409.5 354.6L411.0 356.0L411.1 357.2L410.0 358.0L408.0 358.0L405.9 357.6L404.6 356.6L402.9 356.6L400.9 357.7L398.5 357.7ZM52.5 350.3L54.6 349.5L56.6 349.8L56.6 352.0L55.1 352.4L54.1 353.2L54.9 355.0L56.3 356.0L56.4 357.3L57.6 358.3L56.6 359.3L57.4 360.6L57.6 362.6L56.6 363.4L54.6 363.5L53.0 362.6L52.4 361.3L52.8 358.9L51.8 356.9L51.0 355.3L50.5 353.2L51.0 351.4ZM418.7 350.3L420.7 349.5L422.7 349.8L422.7 352.0L421.2 352.4L420.2 353.2L421.0 355.0L422.4 356.0L422.5 357.3L423.7 358.3L422.7 359.3L423.5 360.6L423.7 362.6L422.7 363.4L420.7 363.5L419.2 362.6L418.6 361.3L419.0 358.9L417.9 356.9L417.1 355.3L416.6 353.2L417.1 351.4ZM62.2 350.3L64.7 350.1L65.2 352.4L63.7 354.3L62.2 353.2ZM428.3 350.3L430.9 350.1L431.4 352.4L429.8 354.3L428.3 353.2ZM108.5 342.4L110.5 341.7L112.5 339.5L114.4 335.7L113.6 335.5L111.8 339.2L109.5 340.7ZM474.6 342.4L476.6 341.7L478.7 339.5L480.5 335.7L479.7 335.5L477.9 339.2L475.6 340.7ZM77.4 351.7L79.0 349.8L82.0 350.1L83.0 350.7L81.0 350.7L79.0 351.0L78.0 352.4ZM443.6 351.7L445.1 349.8L448.1 350.1L449.2 350.7L447.1 350.7L445.1 351.0L444.1 352.4ZM33.7 327.1L35.8 326.7L36.3 325.1L34.2 323.6L33.2 325.1ZM399.8 327.1L401.9 326.7L402.4 325.1L400.3 323.6L399.3 325.1ZM37.8 325.1L39.3 324.4L38.8 321.8L37.8 322.9ZM403.9 325.1L405.4 324.4L404.9 321.8L403.9 322.9ZM35.0 404.2L36.3 403.3L37.5 404.0L37.1 405.9L35.8 406.4L35.0 405.2ZM401.2 404.2L402.4 403.3L403.6 404.0L403.2 405.9L401.9 406.4L401.2 405.2ZM275.3 350.0L277.8 348.0L279.3 346.8L281.4 347.3L282.7 349.5L282.4 350.3L280.3 350.3L278.8 349.5L276.8 350.0ZM279.5 357.1L280.8 356.9L281.2 354.6L281.9 352.4L282.4 351.3L281.4 351.1L279.8 352.4L279.4 355.3ZM282.8 351.1L283.9 351.1L285.9 351.3L287.5 352.7L285.9 353.2L285.7 354.8L284.9 355.3L283.7 354.1L284.1 352.4ZM284.1 357.1L285.9 357.3L288.5 355.7L288.0 355.3L285.9 355.8L284.4 356.4ZM287.8 355.0L290.5 354.8L291.3 353.9L290.0 353.9L288.2 354.1ZM268.1 338.7L269.7 338.7L270.9 343.3L270.2 344.3L268.6 341.7ZM242.7 313.6L246.8 316.1L248.8 313.6L246.8 311.1L243.7 311.1ZM249.8 325.1L252.9 322.5L256.4 321.2L257.5 321.8L254.9 324.4L251.9 325.5Z" fill="#a9c8ef"/><path d="M71.2 355.8 L79.0 356.6 L84.1 354.6 L88.1 350.3M437.4 355.8 L445.1 356.6 L450.2 354.6 L454.2 350.3M78.0 360.0 L84.1 363.2 L92.2 363.9 L99.3 361.3 L107.2 363.7M444.1 360.0 L450.2 363.2 L458.3 363.9 L465.4 361.3 L473.4 363.7M70.1 364.9 L75.9 365.1 L82.5 371.2 L89.1 373.8 L97.1 374.5 L102.4 373.5 L104.9 371.2M436.2 364.9 L442.0 365.1 L448.7 371.2 L455.3 373.8 L463.2 374.5 L468.5 373.5 L471.0 371.2M103.4 369.4 L107.5 370.6 L108.5 375.2M469.5 369.4 L473.6 370.6 L474.6 375.2" fill="none" stroke="#d6d5cf" stroke-opacity="0.32" stroke-width="2.8" style="filter:blur(0.5px)" stroke-linecap="round" stroke-linejoin="round"/></g><text x="205.5" y="264.8" font-size="8.6" fill="#3566c0" font-weight="normal" text-anchor="middle">Arctic</text><text x="205.5" y="273.5" font-size="8.6" fill="#3566c0" font-weight="normal" text-anchor="middle">Ocean</text><text x="206.9" y="371.9" font-size="8.6" fill="#3566c0" font-weight="normal" text-anchor="middle">Pacific</text><text x="206.9" y="381.7" font-size="8.6" fill="#3566c0" font-weight="normal" text-anchor="middle">Ocean</text><text x="334.2" y="373.8" font-size="8.6" fill="#3566c0" font-weight="normal" text-anchor="middle">Atlantic</text><text x="334.2" y="382.8" font-size="8.6" fill="#3566c0" font-weight="normal" text-anchor="middle">Ocean</text><text x="88.9" y="428.8" font-size="8.6" fill="#3566c0" font-weight="normal" text-anchor="middle">Indian</text><text x="88.9" y="438.4" font-size="8.6" fill="#3566c0" font-weight="normal" text-anchor="middle">Ocean</text><text x="104.9" y="340.8" font-size="8.6" fill="#222" font-weight="bold" text-anchor="start" textLength="18.5" lengthAdjust="spacingAndGlyphs">ASIA</text><text x="134.7" y="430.9" font-size="8.6" fill="#222" font-weight="bold" text-anchor="start" textLength="44.9" lengthAdjust="spacingAndGlyphs">AUSTRALIA</text><text x="251.2" y="343.0" font-size="8.6" fill="#222" font-weight="bold" text-anchor="start" textLength="68.3" lengthAdjust="spacingAndGlyphs">NORTH AMERICA</text><text x="386.1" y="347.8" font-size="8.6" fill="#222" font-weight="bold" text-anchor="start" textLength="31.5" lengthAdjust="spacingAndGlyphs">EUROPE</text><text x="387.9" y="402.0" font-size="8.6" fill="#222" font-weight="bold" text-anchor="start" textLength="29.2" lengthAdjust="spacingAndGlyphs">AFRICA</text><text x="301.0" y="424.7" font-size="8.6" fill="#222" font-weight="bold" text-anchor="start" textLength="67.4" lengthAdjust="spacingAndGlyphs">SOUTH AMERICA</text><circle cx="121.0" cy="360.4" r="8.9" fill="rgba(152,206,78,0.70)" stroke="#6ea62c" stroke-width="1.1"/><circle cx="143.6" cy="365.5" r="9.0" fill="rgba(152,206,78,0.70)" stroke="#6ea62c" stroke-width="1.1"/><circle cx="118.3" cy="380.5" r="4.8" fill="rgba(152,206,78,0.70)" stroke="#6ea62c" stroke-width="1.1"/><circle cx="111.3" cy="393.5" r="9.6" fill="rgba(152,206,78,0.70)" stroke="#6ea62c" stroke-width="1.1"/><circle cx="180.5" cy="444.6" r="7.6" fill="rgba(152,206,78,0.70)" stroke="#6ea62c" stroke-width="1.1"/><circle cx="258.3" cy="340.0" r="7.1" fill="rgba(152,206,78,0.70)" stroke="#6ea62c" stroke-width="1.1"/><circle cx="262.5" cy="360.2" r="8.3" fill="rgba(152,206,78,0.70)" stroke="#6ea62c" stroke-width="1.1"/><circle cx="249.8" cy="369.4" r="7.4" fill="rgba(152,206,78,0.70)" stroke="#6ea62c" stroke-width="1.1"/><circle cx="251.5" cy="365.0" r="7.4" fill="rgba(152,206,78,0.70)" stroke="#6ea62c" stroke-width="1.1"/><circle cx="291.4" cy="360.4" r="9.4" fill="rgba(152,206,78,0.70)" stroke="#6ea62c" stroke-width="1.1"/><circle cx="296.6" cy="356.5" r="9.1" fill="rgba(152,206,78,0.70)" stroke="#6ea62c" stroke-width="1.1"/><circle cx="365.6" cy="343.3" r="6.6" fill="rgba(152,206,78,0.70)" stroke="#6ea62c" stroke-width="1.1"/><circle cx="386.7" cy="329.3" r="9.7" fill="rgba(152,206,78,0.70)" stroke="#6ea62c" stroke-width="1.1"/><circle cx="394.0" cy="327.3" r="2.8" fill="rgba(152,206,78,0.70)" stroke="#6ea62c" stroke-width="1.1"/><path d="M30.2 498.2 L33 499.2 L33 505.2 L36.6 503.4 L34.6 502.4 L33.6 500 L39 502.2 L39 505.2 L33 508.9 L30.2 507.2 Z" fill="#111"/><text x="41.9" y="507.9" font-size="9.8" fill="#222" font-weight="normal" text-anchor="start" textLength="18.9" lengthAdjust="spacingAndGlyphs">Bing</text><text x="312.5" y="512.0" font-size="6.6" fill="#444" font-weight="normal" text-anchor="start" textLength="128" lengthAdjust="spacingAndGlyphs">© 2020 HERE, © 2020 Microsoft Corporation</text><text x="444.3" y="512.0" font-size="6.6" fill="#2a5db8" font-weight="normal" text-anchor="start" textLength="16.9" lengthAdjust="spacingAndGlyphs" text-decoration="underline">Terms</text></svg>
<svg class="" style="position:absolute;left:501px;top:253px" width="423" height="86" viewBox="501 253 423 86" font-family='"Liberation Sans", sans-serif'><line x1="537" x2="922" y1="282.2" y2="282.2" stroke="#d9d9d9" stroke-width="1" stroke-dasharray="1 3.2"/><line x1="537" x2="922" y1="319.4" y2="319.4" stroke="#d9d9d9" stroke-width="1" stroke-dasharray="1 3.2"/><text x="532.6" y="285.3" font-size="8.6" fill="#777" font-weight="normal" text-anchor="end">10%</text><text x="532.6" y="322.5" font-size="8.6" fill="#777" font-weight="normal" text-anchor="end">0%</text><text transform="translate(510.3 291.6) rotate(-90)" font-size="7.6" fill="#333" font-weight="bold" text-anchor="middle" textLength="36.4" lengthAdjust="spacingAndGlyphs">Revenue %</text><rect x="540.05" y="315.10" width="16.00" height="4.30" fill="#92d050"/><rect x="580.69" y="306.00" width="16.00" height="13.40" fill="#92d050"/><rect x="601.01" y="306.00" width="16.00" height="13.40" fill="#92d050"/><rect x="621.33" y="286.80" width="16.00" height="32.60" fill="#92d050"/><rect x="641.65" y="285.50" width="16.00" height="33.90" fill="#92d050"/><rect x="661.97" y="284.50" width="16.00" height="34.90" fill="#92d050"/><rect x="682.29" y="294.60" width="16.00" height="24.80" fill="#92d050"/><rect x="702.61" y="277.90" width="16.00" height="41.50" fill="#92d050"/><rect x="722.93" y="299.20" width="16.00" height="20.20" fill="#92d050"/><rect x="743.25" y="276.70" width="16.00" height="42.70" fill="#92d050"/><rect x="763.57" y="296.90" width="16.00" height="22.50" fill="#92d050"/><rect x="783.89" y="287.80" width="16.00" height="31.60" fill="#92d050"/><rect x="804.21" y="293.10" width="16.00" height="26.30" fill="#92d050"/><rect x="824.53" y="301.20" width="16.00" height="18.20" fill="#92d050"/><rect x="865.17" y="316.10" width="16.00" height="3.30" fill="#92d050"/><rect x="885.49" y="315.10" width="16.00" height="4.30" fill="#92d050"/><text x="548.0" y="331.3" font-size="8.2" fill="#777" font-weight="normal" text-anchor="middle">48</text><text x="588.7" y="331.3" font-size="8.2" fill="#777" font-weight="normal" text-anchor="middle">50</text><text x="629.3" y="331.3" font-size="8.2" fill="#777" font-weight="normal" text-anchor="middle">52</text><text x="670.0" y="331.3" font-size="8.2" fill="#777" font-weight="normal" text-anchor="middle">54</text><text x="710.6" y="331.3" font-size="8.2" fill="#777" font-weight="normal" text-anchor="middle">56</text><text x="751.2" y="331.3" font-size="8.2" fill="#777" font-weight="normal" text-anchor="middle">58</text><text x="791.9" y="331.3" font-size="8.2" fill="#777" font-weight="normal" text-anchor="middle">60</text><text x="832.5" y="331.3" font-size="8.2" fill="#777" font-weight="normal" text-anchor="middle">62</text><text x="873.2" y="331.3" font-size="8.2" fill="#777" font-weight="normal" text-anchor="middle">64</text><text x="913.8" y="331.3" font-size="8.2" fill="#777" font-weight="normal" text-anchor="middle">66</text><text x="548.0" y="309.4" font-size="8.2" fill="#777" font-weight="normal" text-anchor="middle">1%</text><text x="670.0" y="279.5" font-size="8.2" fill="#777" font-weight="normal" text-anchor="middle">9%</text><text x="710.6" y="272.6" font-size="8.2" fill="#777" font-weight="normal" text-anchor="middle">11%</text><text x="730.9" y="293.2" font-size="8.2" fill="#777" font-weight="normal" text-anchor="middle">5%</text><text x="751.2" y="271.3" font-size="8.2" fill="#777" font-weight="normal" text-anchor="middle">11%</text><text x="771.6" y="291.3" font-size="8.2" fill="#777" font-weight="normal" text-anchor="middle">6%</text><text x="791.9" y="282.5" font-size="8.2" fill="#777" font-weight="normal" text-anchor="middle">9%</text><text x="873.2" y="310.2" font-size="8.2" fill="#777" font-weight="normal" text-anchor="middle">1%</text><text x="893.5" y="309.2" font-size="8.2" fill="#777" font-weight="normal" text-anchor="middle">1%</text><line x1="547.6" y1="293.9" x2="893.3" y2="298.4" stroke="#111" stroke-width="1.5" stroke-dasharray="3.6 2.9"/></svg>
<svg class="" style="position:absolute;left:501px;top:371px" width="423" height="148" viewBox="501 371 423 148" font-family='"Liberation Sans", sans-serif'><rect x="549.90" y="377.70" width="169.30" height="59.00" fill="#d9ebbf"/><rect x="719.20" y="377.70" width="191.80" height="59.00" fill="#a3cf5a"/><rect x="549.90" y="436.70" width="169.30" height="58.00" fill="#edf5e0"/><rect x="719.20" y="436.70" width="191.80" height="58.00" fill="#d9ebbf"/><rect x="507.80" y="378.70" width="42.10" height="58.00" fill="#fff" stroke="#222" stroke-width="1"/><rect x="507.80" y="436.70" width="42.10" height="58.00" fill="#fff" stroke="#222" stroke-width="1"/><rect x="549.90" y="495.70" width="169.30" height="23.80" fill="#fff" stroke="#222" stroke-width="1"/><rect x="719.20" y="495.70" width="191.80" height="23.80" fill="#fff" stroke="#222" stroke-width="1"/><text x="528.4" y="393.6" font-size="8.8" fill="#555" font-weight="normal" text-anchor="middle">High</text><text x="528.4" y="406.1" font-size="8.8" fill="#555" font-weight="normal" text-anchor="middle">Value</text><text x="528.4" y="418.6" font-size="8.8" fill="#555" font-weight="normal" text-anchor="middle">&gt;</text><text x="528.4" y="430.4" font-size="8.8" fill="#555" font-weight="normal" text-anchor="middle">10,000</text><text x="528.4" y="450.9" font-size="8.8" fill="#555" font-weight="normal" text-anchor="middle">Low</text><text x="528.4" y="463.7" font-size="8.8" fill="#555" font-weight="normal" text-anchor="middle">Value</text><text x="528.4" y="476.5" font-size="8.8" fill="#555" font-weight="normal" text-anchor="middle">&lt;=</text><text x="528.4" y="488.7" font-size="8.8" fill="#555" font-weight="normal" text-anchor="middle">10,000</text><text x="634.3" y="421.2" font-size="30.0" fill="#1c1c1c" font-weight="normal" text-anchor="middle" textLength="58.6" lengthAdjust="spacingAndGlyphs" stroke="#1c1c1c" stroke-width="0.5">4.8M</text><text x="815.4" y="421.2" font-size="30.0" fill="#1c1c1c" font-weight="normal" text-anchor="middle" textLength="58.2" lengthAdjust="spacingAndGlyphs" stroke="#1c1c1c" stroke-width="0.5">6.2M</text><text x="634.9" y="479.1" font-size="30.0" fill="#1c1c1c" font-weight="normal" text-anchor="middle" textLength="57.4" lengthAdjust="spacingAndGlyphs" stroke="#1c1c1c" stroke-width="0.5">0.9M</text><text x="815.4" y="479.1" font-size="30.0" fill="#1c1c1c" font-weight="normal" text-anchor="middle" textLength="57.4" lengthAdjust="spacingAndGlyphs" stroke="#1c1c1c" stroke-width="0.5">1.4M</text><text x="634.5" y="512.5" font-size="10.3" fill="#444" font-weight="normal" text-anchor="middle" textLength="110.5" lengthAdjust="spacingAndGlyphs">Low Margin (&lt;= 55%)</text><text x="815.3" y="512.5" font-size="10.3" fill="#444" font-weight="normal" text-anchor="middle" textLength="97.8" lengthAdjust="spacingAndGlyphs">High Margin &gt; 55%</text></svg>
</body></html>
